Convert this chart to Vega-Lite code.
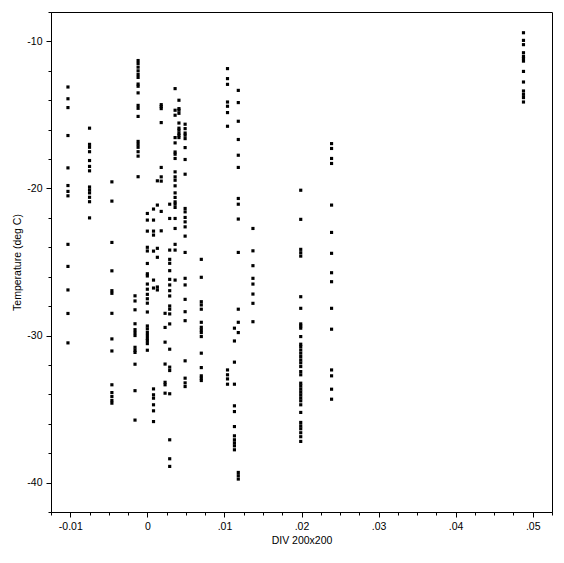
{
  "$schema": "https://vega.github.io/schema/vega-lite/v6.json",
  "width": 501,
  "height": 500,
  "autosize": "none",
  "padding": {"left": 51, "top": 12, "right": 12, "bottom": 51},
  "background": "white",
  "config": {
    "view": {"stroke": "black", "strokeWidth": 1},
    "axis": {
      "grid": false,
      "domainColor": "black",
      "tickColor": "black",
      "labelColor": "black",
      "titleColor": "black",
      "labelFont": "Liberation Sans",
      "titleFont": "Liberation Sans",
      "labelFontSize": 10.5,
      "titleFontSize": 10.5,
      "titleFontWeight": "normal",
      "labelOverlap": false,
      "labelFlush": false
    }
  },
  "data": {"values": [
    {"div": -0.0103, "temp": -13.1}, {"div": -0.0103, "temp": -13.9}, {"div": -0.0103, "temp": -14.5}, {"div": -0.0103, "temp": -16.4}, {"div": -0.0103, "temp": -18.6}, {"div": -0.0103, "temp": -19.8}, {"div": -0.0103, "temp": -20.2}, {"div": -0.0103, "temp": -20.5}, {"div": -0.0103, "temp": -23.8}, {"div": -0.0103, "temp": -25.3}, {"div": -0.0103, "temp": -26.9}, {"div": -0.0103, "temp": -28.5}, {"div": -0.0103, "temp": -30.5},
    {"div": -0.0075, "temp": -15.9}, {"div": -0.0075, "temp": -17.0}, {"div": -0.0075, "temp": -17.2}, {"div": -0.0075, "temp": -17.5}, {"div": -0.0075, "temp": -18.1}, {"div": -0.0075, "temp": -18.5}, {"div": -0.0075, "temp": -18.8}, {"div": -0.0075, "temp": -19.9}, {"div": -0.0075, "temp": -20.1}, {"div": -0.0075, "temp": -20.3}, {"div": -0.0075, "temp": -20.6}, {"div": -0.0075, "temp": -20.9}, {"div": -0.0075, "temp": -22.0},
    {"div": -0.0046, "temp": -19.55}, {"div": -0.0046, "temp": -20.86}, {"div": -0.0046, "temp": -23.67}, {"div": -0.0046, "temp": -25.6}, {"div": -0.0046, "temp": -26.95}, {"div": -0.0046, "temp": -27.13}, {"div": -0.0046, "temp": -28.49}, {"div": -0.0046, "temp": -30.23}, {"div": -0.0046, "temp": -31.05}, {"div": -0.0046, "temp": -33.35}, {"div": -0.0046, "temp": -33.88}, {"div": -0.0046, "temp": -34.15}, {"div": -0.0046, "temp": -34.42}, {"div": -0.0046, "temp": -34.6},
    {"div": -0.0012, "temp": -11.3}, {"div": -0.0012, "temp": -11.5}, {"div": -0.0012, "temp": -11.75}, {"div": -0.0012, "temp": -12.0}, {"div": -0.0012, "temp": -12.25}, {"div": -0.0012, "temp": -12.45}, {"div": -0.0012, "temp": -12.9}, {"div": -0.0012, "temp": -13.05}, {"div": -0.0012, "temp": -13.5}, {"div": -0.0012, "temp": -14.35}, {"div": -0.0012, "temp": -14.55}, {"div": -0.0012, "temp": -15.1}, {"div": -0.0012, "temp": -16.8}, {"div": -0.0012, "temp": -17.0}, {"div": -0.0012, "temp": -17.2}, {"div": -0.0012, "temp": -17.5}, {"div": -0.0012, "temp": -17.8}, {"div": -0.0012, "temp": -19.2},
    {"div": -0.0016, "temp": -27.3}, {"div": -0.0016, "temp": -27.65}, {"div": -0.0016, "temp": -28.25}, {"div": -0.0016, "temp": -29.2}, {"div": -0.0016, "temp": -29.6}, {"div": -0.0016, "temp": -29.8}, {"div": -0.0016, "temp": -30.0}, {"div": -0.0016, "temp": -30.8}, {"div": -0.0016, "temp": -31.0}, {"div": -0.0016, "temp": -31.15}, {"div": -0.0016, "temp": -31.95}, {"div": -0.0016, "temp": -33.75}, {"div": -0.0016, "temp": -35.75},
    {"div": 0.0, "temp": -21.7}, {"div": 0.0, "temp": -22.15}, {"div": 0.0, "temp": -22.9}, {"div": 0.0, "temp": -24.0}, {"div": 0.0, "temp": -24.25}, {"div": 0.0, "temp": -25.1}, {"div": 0.0, "temp": -25.8}, {"div": 0.0, "temp": -25.95}, {"div": 0.0, "temp": -26.5}, {"div": 0.0, "temp": -26.85}, {"div": 0.0, "temp": -27.2}, {"div": 0.0, "temp": -27.5}, {"div": 0.0, "temp": -27.8}, {"div": 0.0, "temp": -28.4}, {"div": 0.0, "temp": -29.35}, {"div": 0.0, "temp": -29.55}, {"div": 0.0, "temp": -29.8}, {"div": 0.0, "temp": -30.0}, {"div": 0.0, "temp": -30.2}, {"div": 0.0, "temp": -30.35}, {"div": 0.0, "temp": -30.55}, {"div": 0.0, "temp": -31.0},
    {"div": 0.0008, "temp": -21.4}, {"div": 0.0008, "temp": -22.15}, {"div": 0.0008, "temp": -22.9}, {"div": 0.0008, "temp": -23.17}, {"div": 0.0008, "temp": -24.26}, {"div": 0.0008, "temp": -26.23}, {"div": 0.0008, "temp": -26.77}, {"div": 0.0008, "temp": -33.63}, {"div": 0.0008, "temp": -34.03}, {"div": 0.0008, "temp": -34.26}, {"div": 0.0008, "temp": -34.71}, {"div": 0.0008, "temp": -35.12}, {"div": 0.0008, "temp": -35.85},
    {"div": 0.0013, "temp": -19.48}, {"div": 0.0013, "temp": -21.13}, {"div": 0.0013, "temp": -24.07}, {"div": 0.0013, "temp": -24.68}, {"div": 0.0013, "temp": -26.7}, {"div": 0.0013, "temp": -26.9},
    {"div": 0.0018, "temp": -14.3}, {"div": 0.0018, "temp": -14.43}, {"div": 0.0018, "temp": -14.57}, {"div": 0.0018, "temp": -15.52}, {"div": 0.0018, "temp": -18.57}, {"div": 0.0018, "temp": -19.21}, {"div": 0.0018, "temp": -19.5}, {"div": 0.0018, "temp": -21.56}, {"div": 0.0018, "temp": -22.88},
    {"div": 0.0023, "temp": -28.49}, {"div": 0.0023, "temp": -29.45}, {"div": 0.0023, "temp": -30.45}, {"div": 0.0023, "temp": -31.94}, {"div": 0.0023, "temp": -33.18}, {"div": 0.0023, "temp": -33.35}, {"div": 0.0023, "temp": -33.92},
    {"div": 0.0029, "temp": -21.07}, {"div": 0.0029, "temp": -22.04}, {"div": 0.0029, "temp": -24.19}, {"div": 0.0029, "temp": -24.82}, {"div": 0.0029, "temp": -25.09}, {"div": 0.0029, "temp": -25.59}, {"div": 0.0029, "temp": -26.18}, {"div": 0.0029, "temp": -26.56}, {"div": 0.0029, "temp": -26.95}, {"div": 0.0029, "temp": -27.31}, {"div": 0.0029, "temp": -27.99}, {"div": 0.0029, "temp": -28.21}, {"div": 0.0029, "temp": -28.53}, {"div": 0.0029, "temp": -29.21}, {"div": 0.0029, "temp": -30.93}, {"div": 0.0029, "temp": -32.15}, {"div": 0.0029, "temp": -32.38}, {"div": 0.0029, "temp": -33.96}, {"div": 0.0029, "temp": -37.09}, {"div": 0.0029, "temp": -38.38}, {"div": 0.0029, "temp": -38.9},
    {"div": 0.0036, "temp": -13.21}, {"div": 0.0036, "temp": -14.68}, {"div": 0.0036, "temp": -15.02}, {"div": 0.0036, "temp": -16.54}, {"div": 0.0036, "temp": -16.9}, {"div": 0.0036, "temp": -17.52}, {"div": 0.0036, "temp": -17.67}, {"div": 0.0036, "temp": -17.96}, {"div": 0.0036, "temp": -18.87}, {"div": 0.0036, "temp": -19.21}, {"div": 0.0036, "temp": -19.44}, {"div": 0.0036, "temp": -19.82}, {"div": 0.0036, "temp": -20.3}, {"div": 0.0036, "temp": -20.61}, {"div": 0.0036, "temp": -20.91}, {"div": 0.0036, "temp": -21.07}, {"div": 0.0036, "temp": -21.29}, {"div": 0.0036, "temp": -22.04}, {"div": 0.0036, "temp": -22.72}, {"div": 0.0036, "temp": -23.8}, {"div": 0.0036, "temp": -24.19}, {"div": 0.0036, "temp": -26.23},
    {"div": 0.0041, "temp": -14.0}, {"div": 0.0041, "temp": -14.57}, {"div": 0.0041, "temp": -14.68}, {"div": 0.0041, "temp": -14.89}, {"div": 0.0041, "temp": -15.55}, {"div": 0.0041, "temp": -15.9}, {"div": 0.0041, "temp": -16.04}, {"div": 0.0041, "temp": -16.25}, {"div": 0.0041, "temp": -16.38}, {"div": 0.0041, "temp": -16.54},
    {"div": 0.0049, "temp": -15.63}, {"div": 0.0049, "temp": -15.93}, {"div": 0.0049, "temp": -16.23}, {"div": 0.0049, "temp": -16.38}, {"div": 0.0049, "temp": -16.61}, {"div": 0.0049, "temp": -17.22}, {"div": 0.0049, "temp": -18.03}, {"div": 0.0049, "temp": -19.03}, {"div": 0.0049, "temp": -21.36}, {"div": 0.0049, "temp": -21.59}, {"div": 0.0049, "temp": -21.97}, {"div": 0.0049, "temp": -22.27}, {"div": 0.0049, "temp": -22.61}, {"div": 0.0049, "temp": -23.24}, {"div": 0.0049, "temp": -24.35}, {"div": 0.0049, "temp": -26.11}, {"div": 0.0049, "temp": -26.56}, {"div": 0.0049, "temp": -27.54}, {"div": 0.0049, "temp": -28.38}, {"div": 0.0049, "temp": -28.99}, {"div": 0.0049, "temp": -31.72}, {"div": 0.0049, "temp": -32.9}, {"div": 0.0049, "temp": -33.22}, {"div": 0.0049, "temp": -33.47},
    {"div": 0.007, "temp": -24.82}, {"div": 0.007, "temp": -26.04}, {"div": 0.007, "temp": -27.7}, {"div": 0.007, "temp": -27.92}, {"div": 0.007, "temp": -28.21}, {"div": 0.007, "temp": -29.1}, {"div": 0.007, "temp": -29.44}, {"div": 0.007, "temp": -29.62}, {"div": 0.007, "temp": -29.8}, {"div": 0.007, "temp": -30.07}, {"div": 0.007, "temp": -31.2}, {"div": 0.007, "temp": -32.18}, {"div": 0.007, "temp": -32.74}, {"div": 0.007, "temp": -32.9}, {"div": 0.007, "temp": -33.06},
    {"div": 0.0104, "temp": -11.85}, {"div": 0.0104, "temp": -12.53}, {"div": 0.0104, "temp": -12.92}, {"div": 0.0104, "temp": -14.12}, {"div": 0.0104, "temp": -14.41}, {"div": 0.0104, "temp": -14.84}, {"div": 0.0104, "temp": -15.77}, {"div": 0.0104, "temp": -32.34}, {"div": 0.0104, "temp": -32.67}, {"div": 0.0104, "temp": -32.95}, {"div": 0.0104, "temp": -33.31},
    {"div": 0.0113, "temp": -29.5}, {"div": 0.0113, "temp": -30.37}, {"div": 0.0113, "temp": -31.81}, {"div": 0.0113, "temp": -33.31}, {"div": 0.0113, "temp": -34.78}, {"div": 0.0113, "temp": -35.17}, {"div": 0.0113, "temp": -36.19}, {"div": 0.0113, "temp": -36.82}, {"div": 0.0113, "temp": -37.09}, {"div": 0.0113, "temp": -37.3}, {"div": 0.0113, "temp": -37.5}, {"div": 0.0113, "temp": -37.77},
    {"div": 0.0118, "temp": -13.33}, {"div": 0.0118, "temp": -14.16}, {"div": 0.0118, "temp": -15.43}, {"div": 0.0118, "temp": -16.67}, {"div": 0.0118, "temp": -17.74}, {"div": 0.0118, "temp": -18.57}, {"div": 0.0118, "temp": -20.68}, {"div": 0.0118, "temp": -21.07}, {"div": 0.0118, "temp": -22.08}, {"div": 0.0118, "temp": -24.35}, {"div": 0.0118, "temp": -28.21}, {"div": 0.0118, "temp": -29.1}, {"div": 0.0118, "temp": -29.8}, {"div": 0.0118, "temp": -39.31}, {"div": 0.0118, "temp": -39.53}, {"div": 0.0118, "temp": -39.76},
    {"div": 0.0137, "temp": -22.72}, {"div": 0.0137, "temp": -24.24}, {"div": 0.0137, "temp": -25.25}, {"div": 0.0137, "temp": -26.11}, {"div": 0.0137, "temp": -26.5}, {"div": 0.0137, "temp": -27.18}, {"div": 0.0137, "temp": -27.81}, {"div": 0.0137, "temp": -29.06},
    {"div": 0.0199, "temp": -20.12}, {"div": 0.0199, "temp": -22.1}, {"div": 0.0199, "temp": -24.14}, {"div": 0.0199, "temp": -24.37}, {"div": 0.0199, "temp": -24.6}, {"div": 0.0199, "temp": -27.36}, {"div": 0.0199, "temp": -28.15}, {"div": 0.0199, "temp": -29.21}, {"div": 0.0199, "temp": -29.35}, {"div": 0.0199, "temp": -29.5}, {"div": 0.0199, "temp": -30.07}, {"div": 0.0199, "temp": -30.59}, {"div": 0.0199, "temp": -30.75}, {"div": 0.0199, "temp": -30.98}, {"div": 0.0199, "temp": -31.2}, {"div": 0.0199, "temp": -31.43}, {"div": 0.0199, "temp": -31.66}, {"div": 0.0199, "temp": -31.86}, {"div": 0.0199, "temp": -32.11}, {"div": 0.0199, "temp": -32.45}, {"div": 0.0199, "temp": -32.67}, {"div": 0.0199, "temp": -33.24}, {"div": 0.0199, "temp": -33.42}, {"div": 0.0199, "temp": -33.63}, {"div": 0.0199, "temp": -33.83}, {"div": 0.0199, "temp": -34.03}, {"div": 0.0199, "temp": -34.24}, {"div": 0.0199, "temp": -34.44}, {"div": 0.0199, "temp": -34.71}, {"div": 0.0199, "temp": -35.23}, {"div": 0.0199, "temp": -35.91}, {"div": 0.0199, "temp": -36.14}, {"div": 0.0199, "temp": -36.34}, {"div": 0.0199, "temp": -36.61}, {"div": 0.0199, "temp": -36.88}, {"div": 0.0199, "temp": -37.2},
    {"div": 0.0239, "temp": -16.95}, {"div": 0.0239, "temp": -17.28}, {"div": 0.0239, "temp": -17.96}, {"div": 0.0239, "temp": -18.3}, {"div": 0.0239, "temp": -21.13}, {"div": 0.0239, "temp": -22.99}, {"div": 0.0239, "temp": -24.41}, {"div": 0.0239, "temp": -25.73}, {"div": 0.0239, "temp": -26.34}, {"div": 0.0239, "temp": -28.15}, {"div": 0.0239, "temp": -29.57}, {"div": 0.0239, "temp": -32.34}, {"div": 0.0239, "temp": -32.74}, {"div": 0.0239, "temp": -33.65}, {"div": 0.0239, "temp": -34.33},
    {"div": 0.0488, "temp": -9.41}, {"div": 0.0488, "temp": -9.93}, {"div": 0.0488, "temp": -10.22}, {"div": 0.0488, "temp": -10.77}, {"div": 0.0488, "temp": -11.02}, {"div": 0.0488, "temp": -11.17}, {"div": 0.0488, "temp": -11.34}, {"div": 0.0488, "temp": -12.04}, {"div": 0.0488, "temp": -12.76}, {"div": 0.0488, "temp": -13.37}, {"div": 0.0488, "temp": -13.6}, {"div": 0.0488, "temp": -13.82}, {"div": 0.0488, "temp": -14.12}
  ]},
  "layer": [
    {
      "mark": {"type": "square", "size": 10, "color": "black", "filled": true, "opacity": 1},
      "encoding": {
        "x": {
          "field": "div", "type": "quantitative",
          "scale": {"domain": [-0.0125, 0.0525], "nice": false, "zero": false},
          "axis": {
            "orient": "bottom",
            "title": "DIV 200x200",
            "values": [-0.01, 0, 0.01, 0.02, 0.03, 0.04, 0.05],
            "labelExpr": "datum.value == 0 ? '0' : datum.value < 0 ? '-' + format(abs(datum.value), '.2f') : replace(format(datum.value, '.2f'), '0.', '.')",
            "tickSize": 5,
            "labelPadding": 4,
            "titlePadding": 4
          }
        },
        "y": {
          "field": "temp", "type": "quantitative",
          "scale": {"domain": [-42, -8], "nice": false, "zero": false},
          "axis": {
            "orient": "left",
            "title": "Temperature (deg C)",
            "values": [-40, -30, -20, -10],
            "labelExpr": "datum.value < 0 ? '-' + abs(datum.value) : '' + datum.value",
            "tickSize": 5,
            "labelPadding": 4,
            "titlePadding": 4
          }
        }
      }
    },
    {
      "mark": {"type": "point", "opacity": 0},
      "encoding": {
        "x": {
          "field": "div", "type": "quantitative",
          "axis": {
            "orient": "bottom",
            "title": null,
            "labels": false,
            "domain": false,
            "tickSize": 3,
            "values": [-0.0125, -0.0075, -0.005, -0.0025, 0.0025, 0.005, 0.0075, 0.0125, 0.015, 0.0175, 0.0225, 0.025, 0.0275, 0.0325, 0.035, 0.0375, 0.0425, 0.045, 0.0475, 0.0525]
          }
        },
        "y": {
          "field": "temp", "type": "quantitative",
          "axis": {
            "orient": "left",
            "title": null,
            "labels": false,
            "domain": false,
            "tickSize": 3,
            "values": [-42, -38, -36, -34, -32, -28, -26, -24, -22, -18, -16, -14, -12, -8]
          }
        }
      }
    }
  ],
  "resolve": {"axis": {"x": "independent", "y": "independent"}}
}
